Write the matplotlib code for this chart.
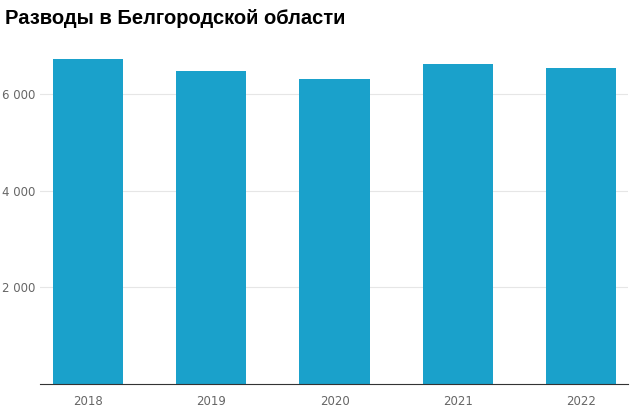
import matplotlib.pyplot as plt
import numpy as np

years = ["2018", "2019", "2020", "2021", "2022"]
divorces = [6740, 6490, 6320, 6630, 6550]
yticks = [2000, 4000, 6000]
ytick_labels = ["2 000", "4 000", "6 000"]

fig = plt.figure(figsize=(6.34, 4.18), dpi=100)
ax = fig.add_axes([40 / 634, 34 / 418, 588 / 634, 338 / 418])

x = np.arange(len(years))
ax.bar(x, divorces, width=0.57, color="#1aa1cb", zorder=2)
ax.set_xlim(-0.39, 4.38)
ax.set_ylim(0, 7000)
ax.set_xticks(x)
ax.set_xticklabels(years)
ax.set_yticks(yticks)
ax.set_yticklabels(ytick_labels)
ax.tick_params(length=0, colors="#666666", labelsize=8.5)
ax.tick_params(axis="x", pad=8)
ax.grid(axis="y", color="#e6e6e6", lw=0.8, zorder=0)
for s in ["top", "right", "left"]:
    ax.spines[s].set_visible(False)
ax.spines["bottom"].set_color("#333333")

fig.text(5 / 634, 1 - 18 / 418, "Разводы в Белгородской области", fontsize=14.5,
         fontweight="bold", va="center", ha="left", family="Liberation Sans")

fig.savefig("out.png")
